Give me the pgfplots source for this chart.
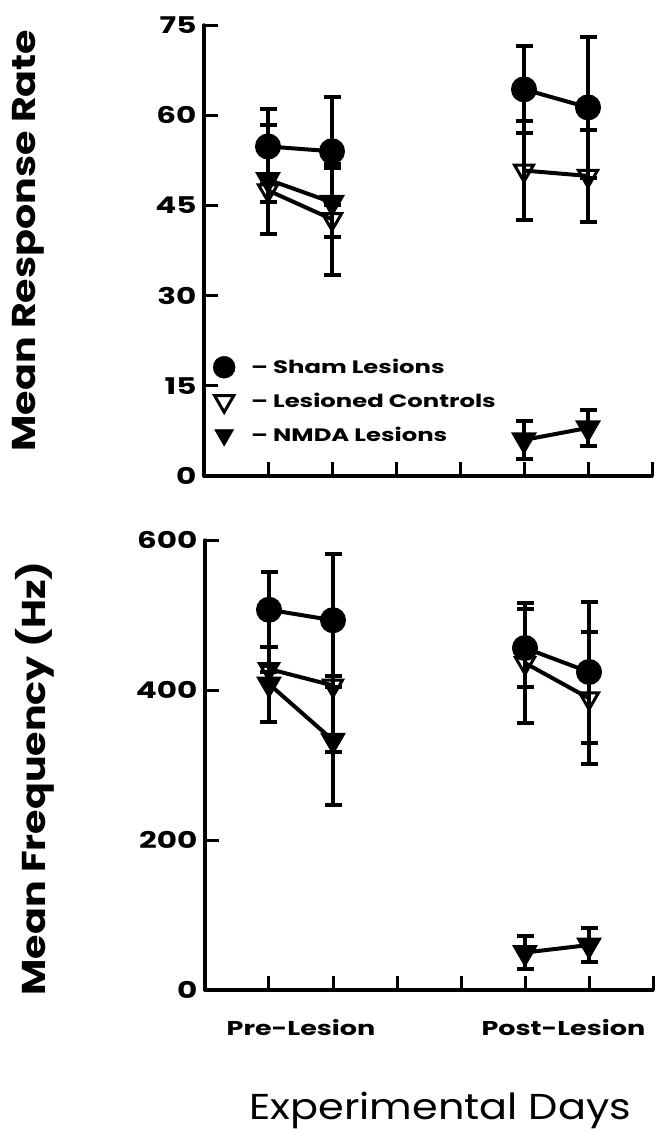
\documentclass[border=0pt]{standalone}
\usepackage{fontspec}
\setmainfont{Poppins}
\newfontfamily\wideA[FakeStretch=1.35]{Poppins}
\newfontfamily\wideB[FakeStretch=1.2]{Poppins}
\newfontfamily\wideC[FakeStretch=1.15]{Poppins}
\usepackage{pgfplots}
\usepackage{pgfplotstable}
\pgfplotsset{compat=1.18}

% mean and error for each group, nan row breaks the line between pre and post
\pgfplotstableread{
x  sham  se    ctrl  ce   nmda  ne
1  54.8  6.3   47.5  2.0  49.3  9.0
2  54.0  9.0   42.7  9.2  45.5  5.8
3  nan   nan   nan   nan  nan   nan
5  64.3  7.2   50.8  8.3  6.0   3.2
6  61.3  11.7  49.9  7.7  8.0   3.0
}\ratetab

\pgfplotstableread{
x  sham  se   ctrl  ce   nmda  ne
1  507   50   428   4    408   50
2  493   89   406   89   333   86
3  nan   nan  nan   nan  nan   nan
5  456   52   436   80   50    22
6  424   94   389   88   60    23
}\freqtab

\pgfplotsset{
  panel/.style={
    scale only axis, width=448pt,
    axis x line=bottom, axis y line=left,
    axis line style={-, line width=3.5pt, line cap=round},
    tick align=inside, major tick length=14pt,
    tick style={line width=3pt, black},
    xmin=0, xmax=7, xtick={1,...,7}, xticklabels={},
    unbounded coords=jump, clip=false,
    /pgf/number format/assume math mode=true,
    yticklabel style={font=\wideA\bfseries\fontsize{23}{23}\selectfont, xshift=-4pt},
    ylabel style={font=\wideB\bfseries\fontsize{33}{33}\selectfont, anchor=center},
  },
  bars/.style={black, line width=4pt,
    /pgfplots/error bars/y dir=both,
    /pgfplots/error bars/y explicit,
    /pgfplots/error bars/error bar style={line width=4pt},
    /pgfplots/error bars/error mark options={rotate=90, mark size=8.5pt, line width=4pt}},
  sham/.style={bars, mark=*, mark size=11pt},
  ctrl/.style={bars, mark=triangle, mark size=11pt, mark options={rotate=180, fill=white, line width=3pt}},
  nmda/.style={bars, mark=triangle*, mark size=11pt, mark options={rotate=180, fill=black}},
}

\begin{document}
\begin{tikzpicture}
\useasboundingbox (0pt,0pt) rectangle (660pt,-1133pt);

\begin{axis}[panel,
  at={(204pt,-476pt)}, anchor=south west, height=451pt,
  ymin=0, ymax=75, ytick={0,15,...,75},
  ylabel={Mean Response Rate},
  ylabel style={at={(rel axis cs:-0.393,0.522)}},
  legend style={at={(rel axis cs:0.02,0.266)}, anchor=north west, draw=none, fill=none,
    font=\wideA\bfseries\fontsize{18}{18}\selectfont, row sep=13pt, inner sep=0pt},
  legend cell align=left,
]
\addlegendimage{only marks, mark=*, mark size=11pt, black}
\addlegendentry{\hspace*{14pt}–\ Sham Lesions}
\addlegendimage{only marks, mark=triangle, mark size=11pt, black, mark options={rotate=180, fill=white, line width=3pt}}
\addlegendentry{\hspace*{14pt}–\ Lesioned Controls}
\addlegendimage{only marks, mark=triangle*, mark size=11pt, black, mark options={rotate=180}}
\addlegendentry{\hspace*{14pt}–\ NMDA Lesions}
\addplot[nmda, forget plot] table[x=x, y=nmda, y error=ne] {\ratetab};
\addplot[ctrl, forget plot] table[x=x, y=ctrl, y error=ce] {\ratetab};
\addplot[sham, forget plot] table[x=x, y=sham, y error=se] {\ratetab};
\end{axis}

\begin{axis}[panel,
  at={(205pt,-990pt)}, anchor=south west, height=450pt,
  ymin=0, ymax=600, ytick={0,200,400,600},
  ylabel={Mean Frequency (Hz)},
  ylabel style={at={(rel axis cs:-0.379,0.47)}},
  extra x ticks={1.5,5.6},
  extra x tick labels={Pre-Lesion,Post-Lesion},
  extra x tick style={major tick length=0pt,
    xticklabel style={font=\wideA\bfseries\fontsize{20}{20}\selectfont, yshift=-26pt}},
  xlabel={Experimental Days},
  xlabel style={at={(rel axis cs:0.525,-0.267)}, anchor=center, font=\wideC\fontsize{36}{36}\selectfont},
]
\addplot[nmda] table[x=x, y=nmda, y error=ne] {\freqtab};
\addplot[ctrl] table[x=x, y=ctrl, y error=ce] {\freqtab};
\addplot[sham] table[x=x, y=sham, y error=se] {\freqtab};
\end{axis}
\end{tikzpicture}
\end{document}
